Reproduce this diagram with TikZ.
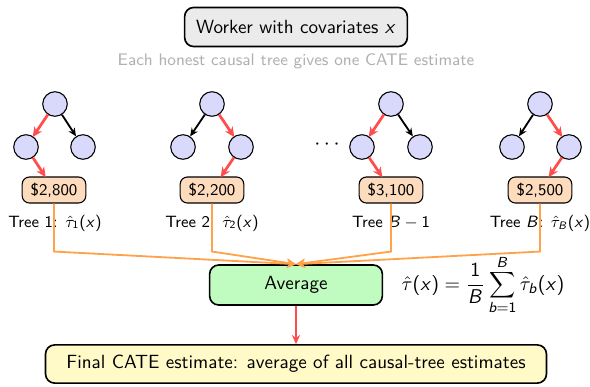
\documentclass[tikz,border=0pt]{standalone}
\usetikzlibrary{arrows.meta}
\DeclareSymbolFont{sfop}{OT1}{cmss}{m}{n}
\DeclareSymbolFont{sfit}{OT1}{cmss}{m}{sl}
\DeclareMathSymbol{x}{\mathalpha}{sfit}{`x}
\DeclareMathSymbol{B}{\mathalpha}{sfit}{`B}
\DeclareMathSymbol{b}{\mathalpha}{sfit}{`b}
\DeclareMathSymbol{1}{\mathalpha}{sfop}{`1}
\DeclareMathSymbol{2}{\mathalpha}{sfop}{`2}
\DeclareMathSymbol{(}{\mathopen}{sfop}{"28}
\DeclareMathSymbol{)}{\mathclose}{sfop}{"29}
\definecolor{boxgray}{HTML}{EBEBEB}
\definecolor{lav}{HTML}{D9D9FC}
\definecolor{redc}{HTML}{FF4D4D}
\definecolor{peach}{HTML}{FDDCBE}
\definecolor{orangec}{HTML}{FFA24A}
\definecolor{greenc}{HTML}{C0FCC0}
\definecolor{yellowc}{HTML}{FFFAC8}
\definecolor{subgray}{HTML}{B0B0B0}
\begin{document}
\sffamily
\begin{tikzpicture}[x=0.55pt,y=-0.55pt,
  tn/.style={circle,draw,fill=lav,minimum size=13.5pt,inner sep=0pt,line width=0.6pt},
  val/.style={draw,rounded corners=4pt,fill=peach,minimum width=35pt,minimum height=14.3pt,inner sep=1pt,line width=0.6pt,font=\sffamily\small},
  redar/.style={-{Stealth[length=5.5pt,width=5pt]},draw=redc,line width=1.5pt,shorten >=-0.5pt},
  blkar/.style={-{Stealth[length=4.5pt,width=4pt]},draw=black,line width=1pt},
  orgline/.style={-{Stealth[length=5pt,width=5pt]},draw=orangec,line width=1pt},
  lbl/.style={font=\sffamily\small,inner sep=0pt},
  bigbox/.style={draw,rounded corners=5pt,line width=0.9pt,font=\sffamily\fontsize{10.5}{12.6}\selectfont}]
\useasboundingbox (0,0) rectangle (590,386);

\node[bigbox,fill=boxgray,minimum width=122.5pt,minimum height=21.5pt] (top) at (296,27) {Worker with covariates $x$};
\node[text=subgray,font=\sffamily\fontsize{9.2}{11}\selectfont] (sub) at (296,61) {Each honest causal tree gives one CATE estimate};

% Tree 1
\node[tn] (r1) at (55,104) {};
\node[tn] (l1) at (26,147) {};
\node[tn] (g1) at (83,147) {};
\node[val] (v1) at (54,190) {\$2,800};
\draw[redar] (r1) -- (l1);
\draw[blkar] (r1) -- (g1);
\draw[redar] (l1) -- (v1);
\node[lbl] (t1) at (55,223) {Tree 1: $\hat{\tau}_1(x)$};

% Tree 2
\node[tn] (r2) at (212,104) {};
\node[tn] (l2) at (183,147) {};
\node[tn] (g2) at (241,147) {};
\node[val] (v2) at (212,190) {\$2,200};
\draw[blkar] (r2) -- (l2);
\draw[redar] (r2) -- (g2);
\draw[redar] (g2) -- (v2);
\node[lbl] (t2) at (212,223) {Tree 2: $\hat{\tau}_2(x)$};

\node[font=\large] (dots) at (327,145) {$\cdots$};

% Tree B-1
\node[tn] (r3) at (391,104) {};
\node[tn] (l3) at (362,147) {};
\node[tn] (g3) at (420,147) {};
\node[val] (v3) at (391,190) {\$3,100};
\draw[redar] (r3) -- (l3);
\draw[blkar] (r3) -- (g3);
\draw[redar] (l3) -- (v3);
\node[lbl] (t3) at (391,223) {Tree $B-1$};

% Tree B
\node[tn] (r4) at (540,104) {};
\node[tn] (l4) at (512,147) {};
\node[tn] (g4) at (569,147) {};
\node[val] (v4) at (540,190) {\$2,500};
\draw[blkar] (r4) -- (l4);
\draw[redar] (r4) -- (g4);
\draw[redar] (g4) -- (v4);
\node[lbl] (t4) at (540,223) {Tree $B$: $\hat{\tau}_B(x)$};

% Average
\node[bigbox,fill=greenc,minimum width=95pt,minimum height=22pt] (avg) at (296,285) {Average};
\node[font=\fontsize{10.8}{13}\selectfont] (form) at (483,285) {$\displaystyle \hat{\tau}(x)=\frac{1}{B}\sum_{b=1}^{B}\hat{\tau}_b(x)$};

\draw[orgline] (v1.south) -- ++(0,48) -- (avg.north);
\draw[orgline] (v2.south) -- ++(0,48) -- (avg.north);
\draw[orgline] (v3.south) -- ++(0,48) -- (avg.north);
\draw[orgline] (v4.south) -- ++(0,48) -- (avg.north);

% Final
\node[bigbox,fill=yellowc,minimum width=275.5pt,minimum height=21pt] (fin) at (296,364) {Final CATE estimate: average of all causal-tree estimates};
\draw[-{Stealth[length=5pt,width=4.5pt]},draw=redc,line width=0.8pt] (avg) -- (fin);
\end{tikzpicture}
\end{document}
